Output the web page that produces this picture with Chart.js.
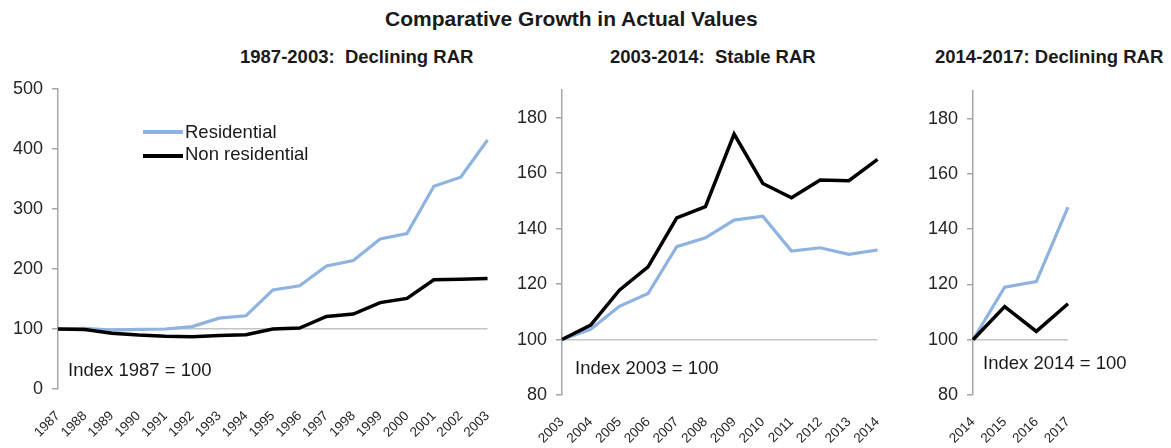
<!DOCTYPE html>
<html>
<head>
<meta charset="utf-8">
<script src="https://cdn.jsdelivr.net/npm/chart.js@4"></script>
<style>
  body { margin: 0; background: #fff; width: 1171px; height: 448px; position: relative; overflow: hidden;
         font-family: "Liberation Sans", Arial, sans-serif; color: #1a1a1a; }
  .box { position: absolute; top: 0; height: 448px; }
  .txt { position: absolute; line-height: 1; white-space: pre; }
  .ttl { font-weight: bold; }
  .leg-line { position: absolute; height: 4px; }
</style>
</head>
<body>
<div class="txt ttl" style="left:385px; top:8px; font-size:21px;">Comparative Growth in Actual Values</div>
<div class="txt ttl" style="left:240px; top:48px; font-size:18.5px;">1987-2003:  Declining RAR</div>
<div class="txt ttl" style="left:610px; top:48px; font-size:18.5px;">2003-2014:  Stable RAR</div>
<div class="txt ttl" style="left:935px; top:48px; font-size:18.5px;">2014-2017: Declining RAR</div>

<div class="box" style="left:0; width:510px;"><canvas id="chart1"></canvas></div>
<div class="box" style="left:500px; width:400px;"><canvas id="chart2"></canvas></div>
<div class="box" style="left:910px; width:200px;"><canvas id="chart3"></canvas></div>

<div class="leg-line" style="left:143px; top:130px; width:40px; background:#8eb3e0;"></div>
<div class="txt" style="left:185px; top:123px; font-size:18.5px;">Residential</div>
<div class="leg-line" style="left:143px; top:154px; width:40px; background:#000;"></div>
<div class="txt" style="left:185px; top:145px; font-size:18.5px;">Non residential</div>

<div class="txt" style="left:68px; top:361px; font-size:18.5px;">Index 1987 = 100</div>
<div class="txt" style="left:575px; top:359px; font-size:18.5px;">Index 2003 = 100</div>
<div class="txt" style="left:983px; top:354px; font-size:18.5px;">Index 2014 = 100</div>

<script>
// datos
const years1 = ["1987","1988","1989","1990","1991","1992","1993","1994","1995","1996","1997","1998","1999","2000","2001","2002","2003"];
const resid1 = [100, 101, 98, 99.5, 100, 104, 118, 122, 165, 172, 205, 214, 250, 259, 338, 353, 415];
const nonres1 = [100, 99, 93, 90, 88, 87, 89, 90.5, 100, 101.5, 121, 125, 144, 151, 182, 183, 184];

const years2 = ["2003","2004","2005","2006","2007","2008","2009","2010","2011","2012","2013","2014"];
const resid2 = [100, 103.7, 112, 116.6, 133.5, 136.7, 143.1, 144.5, 131.9, 133.1, 130.7, 132.3];
const nonres2 = [100, 105.2, 117.8, 126.2, 143.9, 147.9, 174.1, 156.3, 151.1, 157.5, 157.3, 165];

const years3 = ["2014","2015","2016","2017"];
const resid3 = [100, 119, 121, 148];
const nonres3 = [100, 112, 103, 113];

const blue = '#8eb3e0';

function makeChart(id, labels, res, non, yMin, yMax, step, padTop, padRight, yWidth, xHeight) {
    const ctx = document.getElementById(id).getContext('2d');
    return new Chart(ctx, {
        type: 'line',
        data: {
            labels: labels,
            datasets: [
                { label: 'Residential', data: res, borderColor: blue, borderWidth: 3.2, pointRadius: 0, order: 1 },
                { label: 'Non residential', data: non, borderColor: '#000', borderWidth: 3.5, pointRadius: 0, order: 0 }
            ]
        },
        options: {
            responsive: true,
            maintainAspectRatio: false,
            animation: false,
            layout: { padding: { top: padTop, right: padRight, left: 0, bottom: 0 } },
            plugins: { legend: { display: false }, tooltip: { enabled: false } },
            scales: {
                x: {
                    grid: { display: false },
                    border: { display: false },
                    ticks: {
                        autoSkip: false, maxRotation: 45, minRotation: 45, padding: 11,
                        color: '#262626', font: { family: 'Liberation Sans', size: 13.5 }
                    },
                    afterFit: s => { s.height = xHeight; }
                },
                y: {
                    min: yMin, max: yMax,
                    border: { color: '#a6a6a6', width: 1.5 },
                    grid: {
                        color: c => (c.tick && c.tick.value === 100) ? '#c4c4c4' : 'rgba(0,0,0,0)',
                        lineWidth: 1.5, tickLength: 6, tickColor: '#a6a6a6'
                    },
                    ticks: {
                        stepSize: step, includeBounds: false, padding: 9,
                        color: '#262626', font: { family: 'Liberation Sans', size: 18 }
                    },
                    afterFit: s => { s.width = yWidth; }
                }
            }
        }
    });
}

makeChart('chart1', years1, resid1, nonres1, 0, 500, 100, 89, 17, 58, 59);
makeChart('chart2', years2, resid2, nonres2, 80, 190, 20, 90, 16, 62, 53);
makeChart('chart3', years3, resid3, nonres3, 80, 190, 20, 91, 42, 63, 53);
</script>
</body>
</html>
